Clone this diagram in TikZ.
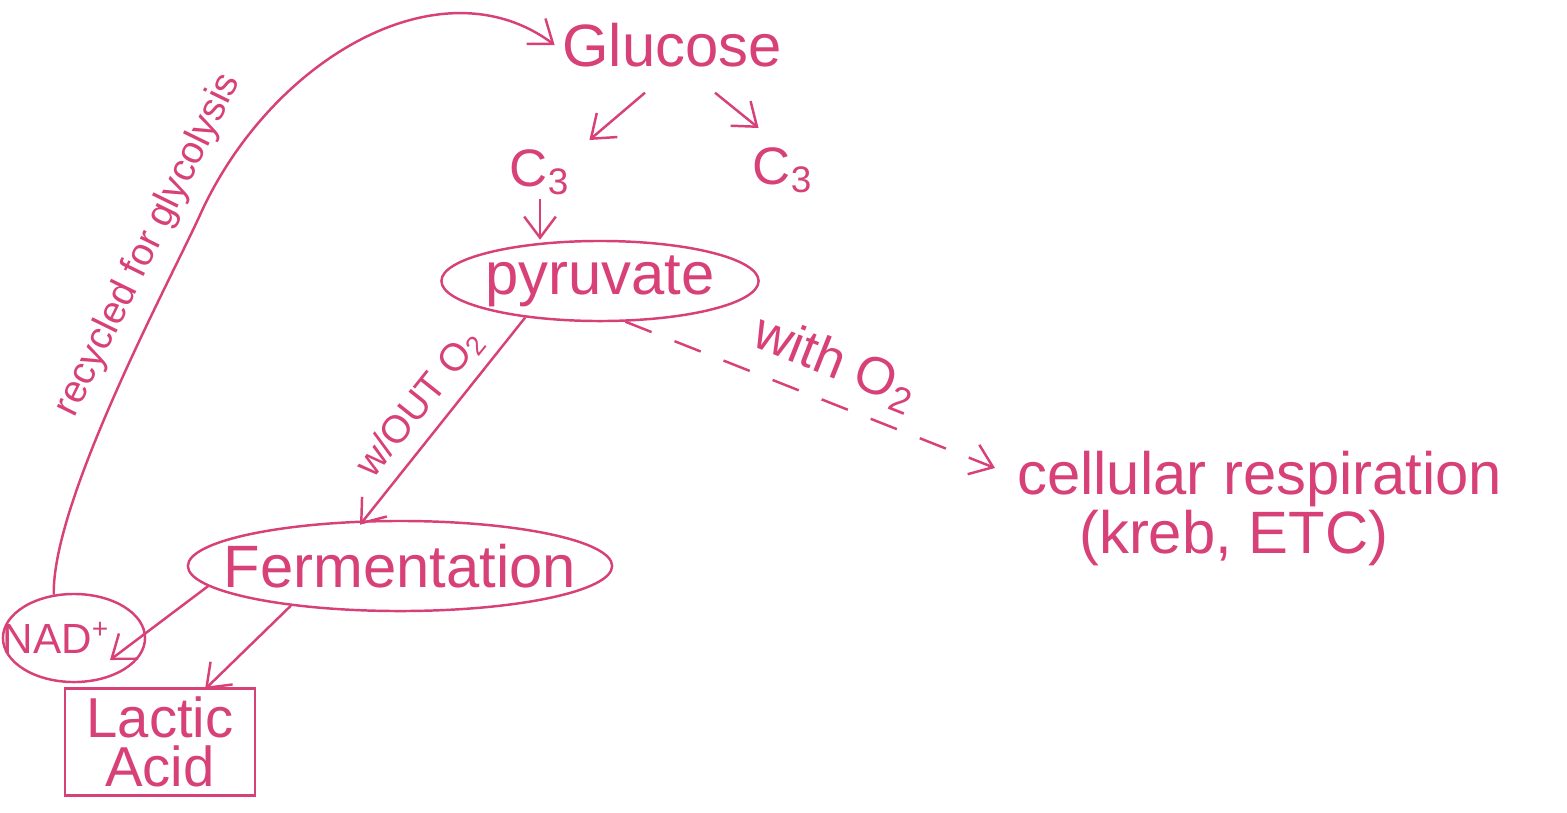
\documentclass[tikz,border=0pt]{standalone}
\usepackage{fontspec}
\setmainfont{Liberation Sans}
\usetikzlibrary{arrows.meta,shapes.geometric}
\definecolor{ink}{RGB}{215,65,120}
\begin{document}
\begin{tikzpicture}[x=0.01cm,y=-0.01cm,
  every node/.style={text=ink, inner sep=1pt},
  big/.style={font=\fontsize{17}{20}\selectfont},
  mid/.style={font=\fontsize{15}{18}\selectfont},
  small/.style={font=\fontsize{11}{13}\selectfont},
  oval/.style={ellipse, draw=ink, line width=0.7pt, inner sep=0pt},
  conn/.style={draw=ink, line width=0.7pt, -{Straight Barb[length=6pt,width=9pt]}},
]
\useasboundingbox (0,0) rectangle (1567,812);

\node[big, inner sep=2pt] (glucose) at (672,45) {Glucose};
\node[mid] (c3a) at (540,172) {C\textsubscript{3}};
\node[mid] (c3b) at (783,170) {C\textsubscript{3}};
\node[oval, big, minimum width=3.17cm, minimum height=0.8cm] (pyruvate) at (600,281) {\makebox[0pt]{pyruvate}};
\node[oval, big, minimum width=4.24cm, minimum height=0.9cm] (fermentation) at (400,566) {\makebox[0pt]{Fermentation}};
\node[oval, font=\fontsize{12}{14}\selectfont, minimum width=1.42cm, minimum height=0.88cm] (nad) at (74,638) {\makebox[0pt]{NAD\textsuperscript{+}\kern0.35cm}};
\node[draw=ink, line width=0.7pt, font=\fontsize{16}{14}\selectfont, align=center, minimum width=1.9cm, minimum height=1.07cm, inner sep=0pt] (lactic) at (160,742) {Lactic\\Acid};
\node[align=left, anchor=north west, font=\fontsize{17}{13}\selectfont] (resp) at (1013,447) {cellular respiration\\\hspace*{0.62cm}(kreb, ETC)};

\coordinate (bend) at (200,215);
\draw[conn] (nad.115) .. controls (52,500) and (171,279) .. (bend)
   node[sloped, above=3pt, pos=0.83, small] {recycled for glycolysis}
   .. controls (270,60) and (440,-40) .. (glucose.west);
\draw[conn] ([shift={(-27,18)}]glucose.south) -- ([shift={(15,-5)}]c3a.north east);
\draw[conn] ([shift={(43,18)}]glucose.south) -- ([shift={(10,-15)}]c3b.north west);
\draw[conn] (c3a.south) -- (c3a.south |- pyruvate.north);
\draw[conn] (pyruvate.206) -- node[sloped, above=2pt, small] {w/OUT O\textsubscript{2}} ([shift={(-40,5)}]fermentation.north);
\draw[conn, dash pattern=on 8pt off 7pt] (pyruvate.302) -- node[sloped, above=3pt, mid, pos=0.53] {with O\textsubscript{2}} ([shift={(-18,21)}]resp.north west);
\draw[conn] (fermentation.186) -- ([shift={(36,22)}]nad.center);
\draw[conn] (fermentation.200) -- ([shift={(45,2)}]lactic.north);
\end{tikzpicture}
\end{document}
